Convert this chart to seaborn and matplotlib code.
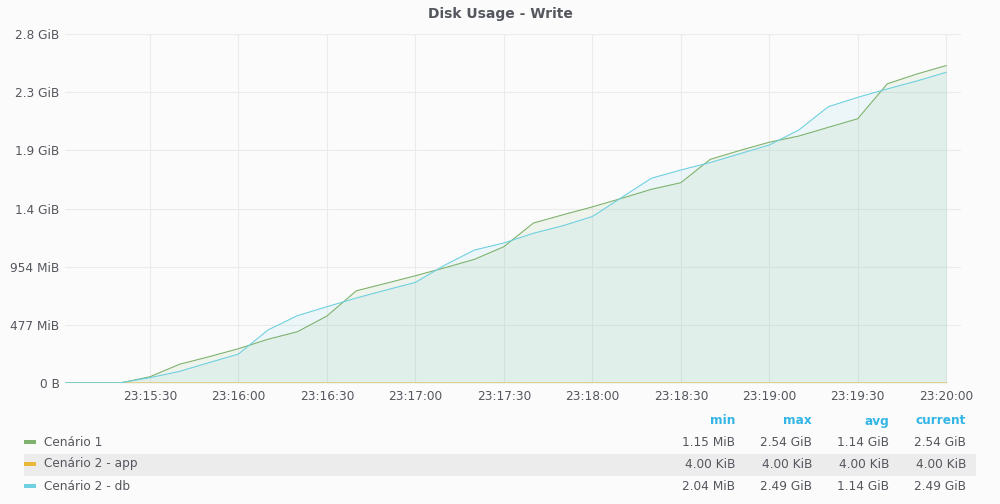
import numpy as np
import pandas as pd
import matplotlib
matplotlib.use("Agg")
import matplotlib.pyplot as plt
import matplotlib.dates as mdates
from matplotlib.patches import Rectangle
from matplotlib.ticker import FuncFormatter, FixedLocator
import seaborn as sns

# ── Data (values in GB = 1e9 bytes) ──────────────────────────────
times = ["23:15:00", "23:15:10", "23:15:20", "23:15:30", "23:15:40", "23:15:50",
         "23:16:00", "23:16:10", "23:16:20", "23:16:30", "23:16:40", "23:16:50",
         "23:17:00", "23:17:10", "23:17:20", "23:17:30", "23:17:40", "23:17:50",
         "23:18:00", "23:18:10", "23:18:20", "23:18:30", "23:18:40", "23:18:50",
         "23:19:00", "23:19:10", "23:19:20", "23:19:30", "23:19:40", "23:19:50",
         "23:20:00"]
cenario1 = [0.0012, 0.0012, 0.0012, 0.054, 0.161, 0.226,
            0.295, 0.376, 0.441, 0.576, 0.793, 0.857,
            0.922, 0.991, 1.063, 1.172, 1.375, 1.446,
            1.514, 1.588, 1.665, 1.722, 1.923, 1.999,
            2.070, 2.123, 2.198, 2.272, 2.572, 2.656,
            2.729]
cenario2_db = [0.0021, 0.0021, 0.0021, 0.046, 0.100, 0.175,
               0.249, 0.456, 0.579, 0.656, 0.731, 0.799,
               0.865, 1.014, 1.143, 1.204, 1.287, 1.352,
               1.431, 1.596, 1.760, 1.831, 1.895, 1.971,
               2.046, 2.175, 2.375, 2.456, 2.528, 2.596,
               2.671]
cenario2_app_bytes = 4096.0

series_names = ["Cenário 1", "Cenário 2 - app", "Cenário 2 - db"]
legend_min = ["1.15 MiB", "4.00 KiB", "2.04 MiB"]
legend_max = ["2.54 GiB", "4.00 KiB", "2.49 GiB"]
legend_avg = ["1.14 GiB", "4.00 KiB", "1.14 GiB"]
legend_cur = ["2.54 GiB", "4.00 KiB", "2.49 GiB"]

COLORS = ["#7EB26D", "#EAB839", "#6ED0E0"]
TEXT = "#55575e"
BG = "#fbfbfb"
GRID = "#ebebeb"

ts = pd.to_datetime(["2024-01-01 " + t for t in times])
df = pd.DataFrame({
    "time": ts,
    series_names[0]: np.array(cenario1) * 1e9,
    series_names[1]: np.full(len(ts), cenario2_app_bytes),
    series_names[2]: np.array(cenario2_db) * 1e9,
})
long = df.melt(id_vars="time", var_name="series", value_name="bytes")

# ── Figure ──────────────────────────────────────────────────────
sns.set_theme(style="white")
plt.rcParams["font.family"] = ["DejaVu Sans"]
fig = plt.figure(figsize=(10, 5.04), dpi=100, facecolor=BG)
ax = fig.add_axes([0.065, 0.240, 0.896, 0.6925], facecolor=BG)

for name, color in zip(series_names, COLORS):
    ax.fill_between(df["time"], 0, df[name], color=color, alpha=0.1, lw=0, zorder=1)

sns.lineplot(data=long, x="time", y="bytes", hue="series", palette=COLORS,
             hue_order=series_names, ax=ax, legend=False, zorder=3)
lws = [0.8, 1.8, 0.8]
for line, lw in zip(ax.get_lines(), lws):
    line.set_linewidth(lw)
ax.get_lines()[1].set_alpha(0.7)

ax.set_xlim(pd.Timestamp("2024-01-01 23:15:01.2"), pd.Timestamp("2024-01-01 23:20:05"))
ax.set_ylim(0, 3e9)


def fmt_bytes(v, pos=None):
    if v == 0:
        return "0 B"
    gib = v / 1024 ** 3
    if gib >= 1:
        return f"{gib:.1f} GiB"
    return f"{v / 1024 ** 2:.0f} MiB"


ax.yaxis.set_major_locator(FixedLocator(np.arange(0, 3.01e9, 0.5e9)))
ax.yaxis.set_major_formatter(FuncFormatter(fmt_bytes))
ax.xaxis.set_major_locator(mdates.SecondLocator(bysecond=[0, 30]))
ax.xaxis.set_major_formatter(mdates.DateFormatter("%H:%M:%S"))
ax.tick_params(axis="both", length=0, labelsize=8.7, colors=TEXT)
ax.tick_params(axis="y", pad=4)
ax.tick_params(axis="x", pad=5)
ax.grid(True, color=GRID, lw=0.8, zorder=0)
ax.set_axisbelow(True)
for s in ax.spines.values():
    s.set_visible(False)
ax.set_xlabel("")
ax.set_ylabel("")

fig.text(0.5, 0.972, "Disk Usage - Write", ha="center", va="center",
         fontsize=10, fontweight="bold", color=TEXT)

# ── Legend table ────────────────────────────────────────────────
H = 504.0
fig.patches.append(Rectangle((24 / 1000, 1 - 476 / H), 952 / 1000, 22 / H,
                             transform=fig.transFigure, facecolor="#ececec",
                             edgecolor="none", zorder=0))
cols_x = [735, 812, 889, 966]
headers = ["min", "max", "avg", "current"]
for x, h in zip(cols_x, headers):
    fig.text(x / 1000, 1 - 421 / H, h, ha="right", va="center", fontsize=8.7,
             fontweight="bold", color="#33b5e5")
rows_y = [442, 464, 486]
for i, (name, color) in enumerate(zip(series_names, COLORS)):
    y = 1 - rows_y[i] / H
    fig.patches.append(Rectangle((24 / 1000, y - 2 / H), 12 / 1000, 4 / H,
                                 transform=fig.transFigure, facecolor=color,
                                 edgecolor="none", zorder=2))
    fig.text(44 / 1000, y, name, ha="left", va="center", fontsize=8.7, color=TEXT)
    vals = [legend_min[i], legend_max[i], legend_avg[i], legend_cur[i]]
    for x, v in zip(cols_x, vals):
        fig.text(x / 1000, y, v, ha="right", va="center", fontsize=8.7, color=TEXT)

fig.savefig("out.png", dpi=100, facecolor=BG)
